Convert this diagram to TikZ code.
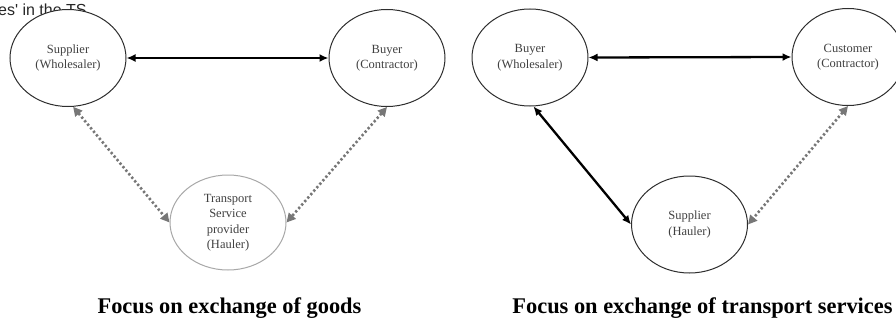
\documentclass[tikz,border=0pt]{standalone}
\usepackage{fontspec}
\setmainfont{Liberation Serif}
\newfontfamily\fragfont{Liberation Sans}
\usetikzlibrary{shapes.geometric,arrows.meta}
\definecolor{edgegray}{HTML}{2E2E2E}
\definecolor{lightedge}{HTML}{A8A8A8}
\definecolor{textgray}{HTML}{404040}
\definecolor{dotgray}{HTML}{777777}
\begin{document}
\begin{tikzpicture}[x=1pt,y=-1pt,
  party/.style={ellipse, draw=edgegray, line width=1pt, fill=white,
    minimum width=116pt, minimum height=97pt, inner sep=0pt, align=center,
    text=textgray, font=\fontsize{12.5}{15.5}\selectfont},
  softparty/.style={party, draw=lightedge},
  solidlink/.style={line width=2.3pt, draw=black,
    {Latex[length=9pt,width=8pt]}-{Latex[length=9pt,width=8pt]}},
  dotlink/.style={line width=2.6pt, draw=dotgray, dash pattern=on 2.3pt off 2.3pt,
    {Triangle[length=9pt,width=9pt,fill=dotgray]}-{Triangle[length=9pt,width=9pt,fill=dotgray]}},
  caption/.style={font=\bfseries\fontsize{22.4}{26}\selectfont, anchor=base, inner sep=0pt},
  fragment/.style={font=\fragfont\fontsize{16}{16}\selectfont, text=black!85, anchor=base west, inner sep=0pt}
]
\useasboundingbox (0,0) rectangle (896,321);
\clip (0,0) rectangle (896,321);

\node[fragment] (frag) at (-2,16) {es' in the TS};

% left diagram
\node[party] (lsup) at (68,58) {Supplier\\(Wholesaler)};
\node[party] (lbuy) at (387,58) {Buyer\\(Contractor)};
\node[softparty, minimum height=95pt] (ltsp) at (228,222.5) {Transport\\Service\\provider\\(Hauler)};

\draw[solidlink] (lsup.east) -- (lbuy.west);
\draw[dotlink] (lsup.-84) -- (ltsp.west);
\draw[dotlink] (lbuy.south) -- (ltsp.east);

\node[caption] (lcap) at (229.5,313) {Focus on exchange of goods};

% right diagram
\node[party] (rbuy) at (530,57.5) {Buyer\\(Wholesaler)};
\node[party, minimum width=112pt] (rcus) at (848,57) {Customer\\(Contractor)};
\node[party] (rsup) at (689.5,224.5) {Supplier\\(Hauler)};

\draw[solidlink] (rbuy.east) -- (rcus.west);
\draw[solidlink] (rbuy.-86) -- (rsup.west);
\draw[dotlink] (rcus.south) -- (rsup.east);

\node[caption] (rcap) at (702.5,313) {Focus on exchange of transport services};
\end{tikzpicture}
\end{document}
